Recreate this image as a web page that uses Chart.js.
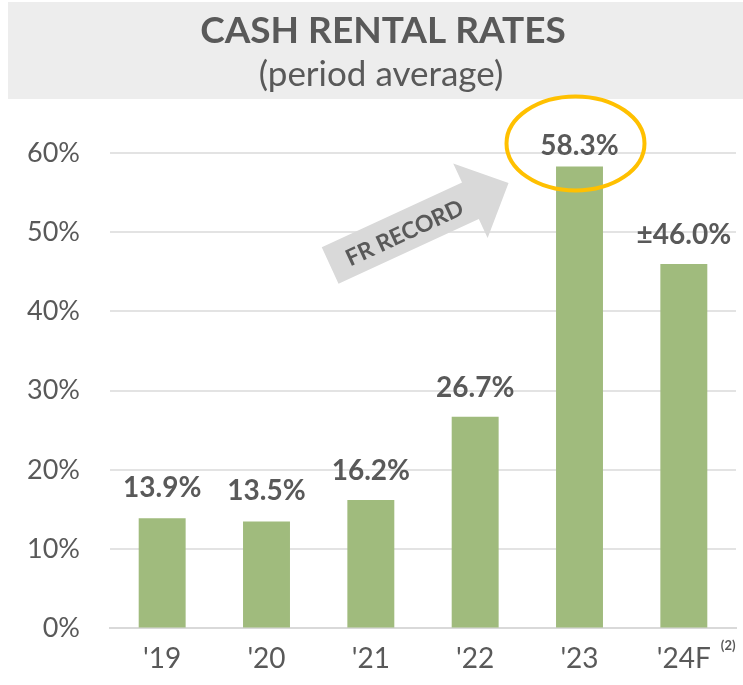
<!DOCTYPE html>
<html>
<head>
<meta charset="utf-8">
<script src="https://cdn.jsdelivr.net/npm/chart.js@4.4.0/dist/chart.umd.min.js"></script>
<style>
  html, body { margin: 0; padding: 0; background: #fff; }
  #wrap { width: 743px; height: 685px; position: relative; }
</style>
</head>
<body>
<div id="wrap"><canvas id="myChart"></canvas></div>
<script>
// data
const years = ["'19", "'20", "'21", "'22", "'23", "'24F"];
const rates = [13.9, 13.5, 16.2, 26.7, 58.3, 46.0];
const rateLabels = ['13.9%', '13.5%', '16.2%', '26.7%', '58.3%', '±46.0%'];
const yTicks = [0, 10, 20, 30, 40, 50, 60];
const titleText = 'CASH RENTAL RATES';
const subtitleText = '(period average)';

const GREY = '#595959';
const FONT = 'Lato, "Open Sans", sans-serif';

// label lift above bar top (px)
const labelLift = [30, 30, 29, 29, 21, 29];

const extras = {
    id: 'extras',
    beforeDraw(chart) {
        const ctx = chart.ctx;
        ctx.save();
        ctx.fillStyle = '#ededed';
        ctx.fillRect(8, 2, chart.width - 8, 97);
        ctx.fillStyle = GREY;
        ctx.textAlign = 'center';
        ctx.textBaseline = 'middle';
        ctx.font = 'bold 37px ' + FONT;
        ctx.fillText(titleText, 383, 31);
        ctx.font = '35px ' + FONT;
        ctx.fillText(subtitleText, 381, 75);
        ctx.restore();
    },
    afterDatasetsDraw(chart) {
        const ctx = chart.ctx;
        const x = chart.scales.x, y = chart.scales.y;
        const bars = chart.getDatasetMeta(0).data;
        ctx.save();

        // arrow "FR RECORD"
        const tx = x.getPixelForValue(1.61), ty = y.getPixelForValue(45.8);
        const hx = x.getPixelForValue(3.32), hy = y.getPixelForValue(56.2);
        const ang = Math.atan2(hy - ty, hx - tx);
        const len = Math.hypot(hx - tx, hy - ty);
        const headLen = 42, shaftW = 20, headW = 41;
        ctx.translate(tx, ty);
        ctx.rotate(ang);
        ctx.fillStyle = '#d9d9d9';
        ctx.beginPath();
        ctx.moveTo(0, -shaftW);
        ctx.lineTo(len - headLen, -shaftW);
        ctx.lineTo(len - headLen, -headW);
        ctx.lineTo(len, 0);
        ctx.lineTo(len - headLen, headW);
        ctx.lineTo(len - headLen, shaftW);
        ctx.lineTo(0, shaftW);
        ctx.closePath();
        ctx.fill();
        ctx.fillStyle = GREY;
        ctx.font = 'bold 23px ' + FONT;
        ctx.textAlign = 'center';
        ctx.textBaseline = 'middle';
        ctx.fillText('FR RECORD', (len - headLen) / 2 + 4, 2);
        ctx.setTransform(1, 0, 0, 1, 0, 0);

        // value labels
        ctx.font = 'bold 28px ' + FONT;
        ctx.fillStyle = GREY;
        ctx.textAlign = 'center';
        ctx.textBaseline = 'middle';
        bars.forEach((b, i) => {
            ctx.fillText(rateLabels[i], b.x, b.y - labelLift[i]);
        });

        // ring around the record
        const rb = bars[4];
        ctx.strokeStyle = '#ffc000';
        ctx.lineWidth = 4;
        ctx.beginPath();
        ctx.ellipse(rb.x - 4, rb.y - labelLift[4] - 2, 69, 47, 0, 0, Math.PI * 2);
        ctx.stroke();

        // footnote marker on last tick
        const lx = x.getPixelForValue(5);
        ctx.font = 'bold 13px ' + FONT;
        ctx.textAlign = 'left';
        ctx.fillText('(2)', lx + 37, x.bottom - 36);
        ctx.restore();
    }
};

const chart = new Chart(document.getElementById('myChart'), {
    type: 'bar',
    data: {
        labels: years,
        datasets: [{
            data: rates,
            backgroundColor: '#a0bb7d',
            categoryPercentage: 1,
            barPercentage: 0.45
        }]
    },
    options: {
        responsive: true,
        maintainAspectRatio: false,
        animation: false,
        layout: { padding: { left: 0, right: 7, top: 153, bottom: 3 } },
        plugins: {
            legend: { display: false },
            tooltip: { enabled: false },
            title: { display: false }
        },
        scales: {
            x: {
                grid: { display: false },
                border: { color: '#d9d9d9', width: 2 },
                ticks: { color: GREY, font: { family: FONT, size: 28 }, padding: 6 }
            },
            y: {
                min: 0,
                max: 60,
                afterBuildTicks: (s) => { s.ticks = yTicks.map(v => ({ value: v })); },
                afterFit: (s) => { s.width = 110; },
                grid: { color: '#e3e3e3', lineWidth: 2, drawTicks: false },
                border: { display: false },
                ticks: {
                    color: GREY,
                    font: { family: FONT, size: 27 },
                    padding: 30,
                    callback: (v) => v + '%'
                }
            }
        }
    },
    plugins: [extras]
});
</script>
</body>
</html>
